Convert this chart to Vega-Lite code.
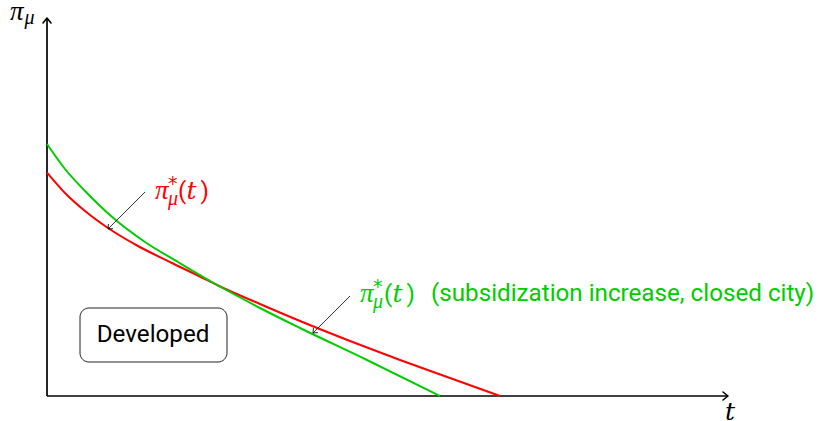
{
  "$schema": "https://vega.github.io/schema/vega-lite/v6.json",
  "width": 821,
  "height": 421,
  "padding": 0,
  "autosize": {"type": "none"},
  "background": "white",
  "config": {"view": {"stroke": null}},
  "datasets": {
    "curves": [
      {"t": 0, "p": 2.235, "series": "base"},
      {"t": 0.2, "p": 2.01, "series": "base"},
      {"t": 0.38, "p": 1.85, "series": "base"},
      {"t": 0.61, "p": 1.68, "series": "base"},
      {"t": 0.91, "p": 1.5, "series": "base"},
      {"t": 1.25, "p": 1.33, "series": "base"},
      {"t": 1.58, "p": 1.17, "series": "base"},
      {"t": 1.71, "p": 1.105, "series": "base"},
      {"t": 2.13, "p": 0.92, "series": "base"},
      {"t": 2.53, "p": 0.75, "series": "base"},
      {"t": 3.03, "p": 0.55, "series": "base"},
      {"t": 3.53, "p": 0.36, "series": "base"},
      {"t": 4.03, "p": 0.18, "series": "base"},
      {"t": 4.53, "p": 0, "series": "base"},
      {"t": 0, "p": 2.52, "series": "subsidy"},
      {"t": 0.18, "p": 2.27, "series": "subsidy"},
      {"t": 0.38, "p": 2.05, "series": "subsidy"},
      {"t": 0.64, "p": 1.8, "series": "subsidy"},
      {"t": 0.98, "p": 1.54, "series": "subsidy"},
      {"t": 1.31, "p": 1.34, "series": "subsidy"},
      {"t": 1.65, "p": 1.14, "series": "subsidy"},
      {"t": 2.13, "p": 0.88, "series": "subsidy"},
      {"t": 2.53, "p": 0.68, "series": "subsidy"},
      {"t": 3.2, "p": 0.36, "series": "subsidy"},
      {"t": 3.93, "p": 0, "series": "subsidy"}
    ],
    "axes": [
      {"t": 0, "p": 0, "t2": 6.81, "p2": 0, "dir": "x"},
      {"t": 0, "p": 0, "t2": 0, "p2": 3.78, "dir": "y"}
    ],
    "pointers": [
      {"t": 0.98, "p": 2.04, "t2": 0.61, "p2": 1.67, "series": "base"},
      {"t": 3.03, "p": 1.0, "t2": 2.66, "p2": 0.63, "series": "subsidy"}
    ],
    "box": [
      {"t": 0.33, "p": 0.88, "t2": 1.8, "p2": 0.34}
    ],
    "labels": [
      {"t": 1.08, "p": 1.973, "text": "π", "kind": "math", "series": "base"},
      {"t": 1.21, "p": 2.06, "text": "*", "kind": "sup", "series": "base"},
      {"t": 1.21, "p": 1.91, "text": "μ", "kind": "sub", "series": "base"},
      {"t": 1.31, "p": 1.973, "text": "(", "kind": "txt", "series": "base"},
      {"t": 1.395, "p": 1.973, "text": "t", "kind": "mathT", "series": "base"},
      {"t": 1.535, "p": 1.973, "text": ")", "kind": "txt", "series": "base"},
      {"t": 3.13, "p": 0.943, "text": "π", "kind": "math", "series": "subsidy"},
      {"t": 3.26, "p": 1.03, "text": "*", "kind": "sup", "series": "subsidy"},
      {"t": 3.26, "p": 0.88, "text": "μ", "kind": "sub", "series": "subsidy"},
      {"t": 3.37, "p": 0.943, "text": "(", "kind": "txt", "series": "subsidy"},
      {"t": 3.455, "p": 0.943, "text": "t", "kind": "mathT", "series": "subsidy"},
      {"t": 3.595, "p": 0.943, "text": ")", "kind": "txt", "series": "subsidy"},
      {"t": 3.84, "p": 0.95, "text": "(subsidization increase, closed city)", "kind": "txt", "series": "subsidy"},
      {"t": 6.78, "p": -0.235, "text": "t", "kind": "mathT", "series": "axis"},
      {"t": -0.37, "p": 3.76, "text": "π", "kind": "math", "series": "axis"},
      {"t": -0.225, "p": 3.72, "text": "μ", "kind": "sub", "series": "axis"},
      {"t": 0.497, "p": 0.543, "text": "Developed", "kind": "txt", "series": "axis"}
    ]
  },
  "encoding": {
    "x": {"field": "t", "type": "quantitative", "scale": {"domain": [-0.47, 7.74], "nice": false, "zero": false}, "axis": null},
    "y": {"field": "p", "type": "quantitative", "scale": {"domain": [-0.25, 3.96], "nice": false, "zero": false}, "axis": null},
    "color": {"field": "series", "type": "nominal", "legend": null, "scale": {"domain": ["axis", "base", "subsidy"], "range": ["#000000", "#ff0000", "#00cc00"]}}
  },
  "layer": [
    {
      "data": {"name": "box"},
      "mark": {"type": "rect", "cornerRadius": 9, "fill": "white", "stroke": "#222222", "strokeWidth": 1},
      "encoding": {"x2": {"field": "t2"}, "y2": {"field": "p2"}, "color": {"value": null}}
    },
    {
      "data": {"name": "axes"},
      "mark": {"type": "rule", "stroke": "#000000", "strokeWidth": 1.7},
      "encoding": {"x2": {"field": "t2"}, "y2": {"field": "p2"}, "color": {"value": "#000000"}}
    },
    {
      "data": {"name": "axes"},
      "transform": [{"filter": "datum.dir == 'x'"}],
      "mark": {"type": "point", "shape": "M -1 -0.8 L 0 0 L -1 0.8", "filled": false, "opacity": 1, "size": 100, "strokeWidth": 1.6, "angle": 0, "strokeCap": "round", "strokeJoin": "round"},
      "encoding": {"x": {"field": "t2", "type": "quantitative"}, "y": {"field": "p2", "type": "quantitative"}, "color": {"value": "#000000"}}
    },
    {
      "data": {"name": "axes"},
      "transform": [{"filter": "datum.dir == 'y'"}],
      "mark": {"type": "point", "shape": "M -1 -0.8 L 0 0 L -1 0.8", "filled": false, "opacity": 1, "size": 100, "strokeWidth": 1.6, "angle": 270, "strokeCap": "round", "strokeJoin": "round"},
      "encoding": {"x": {"field": "t2", "type": "quantitative"}, "y": {"field": "p2", "type": "quantitative"}, "color": {"value": "#000000"}}
    },
    {
      "data": {"name": "curves"},
      "mark": {"type": "line", "strokeWidth": 2, "interpolate": "monotone"},
      "encoding": {"detail": {"field": "series"}}
    },
    {
      "data": {"name": "pointers"},
      "mark": {"type": "rule", "strokeWidth": 0.8},
      "encoding": {"x2": {"field": "t2"}, "y2": {"field": "p2"}, "color": {"value": "#000000"}}
    },
    {
      "data": {"name": "pointers"},
      "mark": {"type": "point", "shape": "M -1 -0.85 L 0 0 L -1 0.85", "filled": false, "opacity": 1, "size": 49, "strokeWidth": 0.8, "angle": 135, "strokeCap": "round", "strokeJoin": "round"},
      "encoding": {"x": {"field": "t2", "type": "quantitative"}, "y": {"field": "p2", "type": "quantitative"}, "color": {"value": "#000000"}}
    },
    {
      "data": {"name": "labels"},
      "transform": [{"filter": "datum.kind == 'txt'"}],
      "mark": {"type": "text", "align": "left", "baseline": "alphabetic", "font": "Roboto", "fontSize": 24.2},
      "encoding": {"text": {"field": "text"}}
    },
    {
      "data": {"name": "labels"},
      "transform": [{"filter": "datum.kind == 'math'"}],
      "mark": {"type": "text", "align": "left", "baseline": "alphabetic", "font": "Liberation Serif", "fontStyle": "italic", "fontSize": 27},
      "encoding": {"text": {"field": "text"}}
    },
    {
      "data": {"name": "labels"},
      "transform": [{"filter": "datum.kind == 'mathT'"}],
      "mark": {"type": "text", "align": "left", "baseline": "alphabetic", "font": "DejaVu Serif", "fontStyle": "italic", "fontSize": 25},
      "encoding": {"text": {"field": "text"}}
    },
    {
      "data": {"name": "labels"},
      "transform": [{"filter": "datum.kind == 'sub'"}],
      "mark": {"type": "text", "align": "left", "baseline": "alphabetic", "font": "Liberation Serif", "fontStyle": "italic", "fontSize": 20},
      "encoding": {"text": {"field": "text"}}
    },
    {
      "data": {"name": "labels"},
      "transform": [{"filter": "datum.kind == 'sup'"}],
      "mark": {"type": "text", "align": "left", "baseline": "alphabetic", "font": "DejaVu Sans", "fontSize": 19},
      "encoding": {"text": {"field": "text"}}
    }
  ]
}
